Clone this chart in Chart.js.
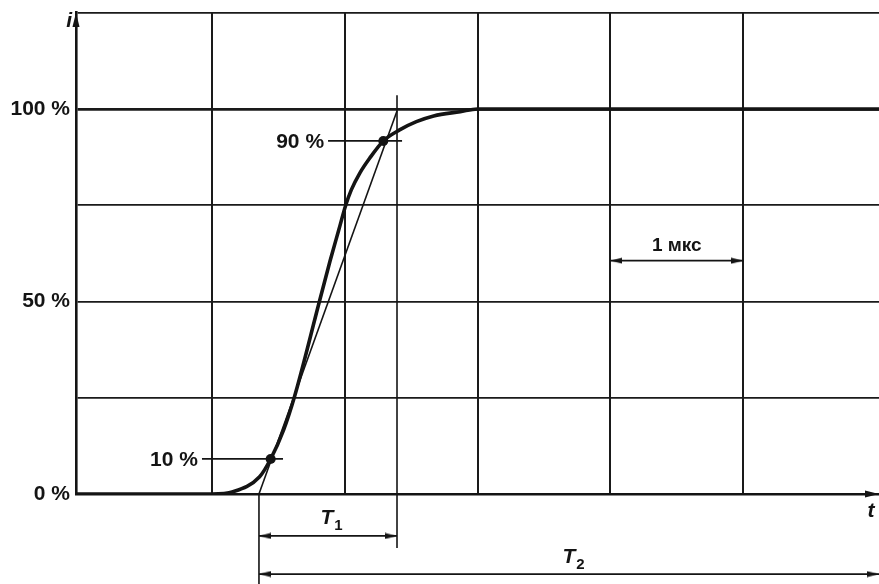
<!DOCTYPE html>
<html><head><meta charset="utf-8">
<script src="https://cdn.jsdelivr.net/npm/chart.js@4.4.1/dist/chart.umd.min.js"></script>
<style>html,body{margin:0;padding:0;background:#fff}#wrap{width:879px;height:584px}</style>
</head><body><div id="wrap"><canvas id="c" width="879" height="584"></canvas></div>
<script>
// ---- data (time in microseconds, current in % of peak) ----
const timeUs     = [-0.03, 1.0, 1.16, 1.36, 1.443, 1.54, 1.62, 1.81, 1.89, 1.955, 2.008, 2.05, 2.113, 2.188, 2.291, 2.41, 2.54, 2.67, 2.87, 3.0, 6.03];
const currentPct = [0, 0, 0.6, 4.5, 9.1, 16.6, 25, 50, 60.5, 68.5, 75, 79, 83.3, 87.2, 91.7, 94.5, 96.7, 98.2, 99.3, 100, 100];
const yTicks      = [0, 25, 50, 75, 100, 125];
const yTickLabels = ['0 %', '', '50 %', '', '100 %', ''];
const xGridUs     = [1, 2, 3, 4, 5];
const levelLabels = ['10 %', '90 %'];
const levelPct    = [9.1, 91.7];
const levelTimeUs = [1.443, 2.291];
const levelMarkFromUs = [0.926, 1.875];
const levelMarkToUs   = [1.536, 2.432];
const rampStartUs = 1.355, rampEndUs = 2.394, rampTopPct = 99.5;
const rampEndMarkPct = [103.6, -14.0];
const rampStartMarkPct = [0, -23.4];
const T1Pct = -10.9, T2Pct = -20.8;
const scaleBarUs = [4, 5], scaleBarPct = 60.6, scaleBarLabel = '1 мкс';
const xMin = -0.0222, xMax = 6.022, yMin = 0, yMax = 125;

// ---- helpers ----
const INK = '#141414';
const FONT = '"Liberation Sans", Arial, sans-serif';
function arrowImg(len, half) {
  const c = document.createElement('canvas');
  c.width = len * 2; c.height = half * 2;
  const g = c.getContext('2d');
  g.fillStyle = INK;
  g.beginPath(); g.moveTo(len, half); g.lineTo(0, 0.5); g.lineTo(0, half * 2 - 0.5); g.closePath(); g.fill();
  return c;
}
const arrowSmall = arrowImg(12, 3.5);
const arrowAxis = arrowImg(14, 4);
const pts = (xs, ys) => xs.map((v, i) => ({x: v, y: ys[i]}));
const seg = (extra) => Object.assign({borderColor: INK, pointRadius: 0, clip: false, tension: 0, fill: false}, extra);

const datasets = [
  seg({data: pts(timeUs, currentPct), borderWidth: 3.6, cubicInterpolationMode: 'monotone', clip: undefined}),
  seg({data: [{x: rampStartUs, y: 0}, {x: rampEndUs, y: rampTopPct}], borderWidth: 1.6}),
  seg({data: [{x: levelMarkFromUs[0], y: levelPct[0]}, {x: levelMarkToUs[0], y: levelPct[0]}], borderWidth: 1.8}),
  seg({data: [{x: levelMarkFromUs[1], y: levelPct[1]}, {x: levelMarkToUs[1], y: levelPct[1]}], borderWidth: 1.8}),
  seg({data: pts(levelTimeUs, levelPct), showLine: false, pointRadius: 5, pointBackgroundColor: INK, pointBorderWidth: 0}),
  seg({data: [{x: rampStartUs, y: rampStartMarkPct[0]}, {x: rampStartUs, y: rampStartMarkPct[1]}], borderWidth: 1.6}),
  seg({data: [{x: rampEndUs, y: rampEndMarkPct[0]}, {x: rampEndUs, y: rampEndMarkPct[1]}], borderWidth: 1.6}),
  seg({data: [{x: rampStartUs, y: T1Pct}, {x: rampEndUs, y: T1Pct}], borderWidth: 1.8,
       pointStyle: arrowSmall, pointRotation: [180, 0], pointRadius: 100, pointBorderWidth: 0}),
  seg({data: [{x: rampStartUs, y: T2Pct}, {x: xMax, y: T2Pct}], borderWidth: 1.8,
       pointStyle: arrowSmall, pointRotation: [180, 0], pointRadius: 100, pointBorderWidth: 0}),
  seg({data: [{x: scaleBarUs[0], y: scaleBarPct}, {x: scaleBarUs[1], y: scaleBarPct}], borderWidth: 1.8,
       pointStyle: arrowSmall, pointRotation: [180, 0], pointRadius: 100, pointBorderWidth: 0}),
  seg({data: [{x: xMin, y: yMax}, {x: xMax, y: yMin}], showLine: false,
       pointStyle: arrowAxis, pointRotation: [-90, 0], pointRadius: 100, pointBorderWidth: 0})
];

const textPlugin = {
  id: 'texts',
  afterDatasetsDraw(chart) {
    const {ctx, scales: {x, y}} = chart;
    ctx.save();
    ctx.fillStyle = INK;
    ctx.font = 'bold 21px ' + FONT;
    ctx.textAlign = 'right'; ctx.textBaseline = 'middle';
    levelLabels.forEach((t, i) => ctx.fillText(t, x.getPixelForValue(levelMarkFromUs[i]) - 4, y.getPixelForValue(levelPct[i]) + 1));
    ctx.textAlign = 'center';
    ctx.font = 'bold 19px ' + FONT;
    ctx.fillText(scaleBarLabel, x.getPixelForValue((scaleBarUs[0] + scaleBarUs[1]) / 2), y.getPixelForValue(scaleBarPct) - 15);
    function sub(main, s, cx, base) {
      ctx.textBaseline = 'alphabetic'; ctx.textAlign = 'left';
      ctx.font = 'italic bold 21px ' + FONT;
      const w1 = ctx.measureText(main).width;
      ctx.font = 'bold 15px ' + FONT;
      const w2 = ctx.measureText(s).width;
      const x0 = cx - (w1 + w2) / 2;
      ctx.font = 'italic bold 21px ' + FONT;
      ctx.fillText(main, x0, base);
      ctx.font = 'bold 15px ' + FONT;
      ctx.fillText(s, x0 + w1 + 1, base + 6);
    }
    sub('T', '1', (x.getPixelForValue(rampStartUs) + x.getPixelForValue(rampEndUs)) / 2 + 3, y.getPixelForValue(T1Pct) - 12);
    sub('T', '2', (x.getPixelForValue(rampStartUs) + x.getPixelForValue(xMax)) / 2 + 4, y.getPixelForValue(T2Pct) - 11);
    ctx.font = 'italic bold 21px ' + FONT;
    ctx.textAlign = 'right'; ctx.textBaseline = 'alphabetic';
    ctx.fillText('i', x.getPixelForValue(xMin) - 4, y.getPixelForValue(yMax) + 14);
    ctx.textAlign = 'center';
    ctx.fillText('t', x.getPixelForValue(xMax) - 8, y.getPixelForValue(yMin) + 23);
    ctx.restore();
  }
};

new Chart(document.getElementById('c'), {
  type: 'line',
  data: {datasets},
  options: {
    responsive: false, animation: false, events: [], devicePixelRatio: 1,
    layout: {autoPadding: false, padding: {top: 12.75, right: 0, bottom: 0, left: 0}},
    plugins: {legend: {display: false}, tooltip: {enabled: false}},
    scales: {
      x: {
        type: 'linear', min: xMin, max: xMax,
        afterBuildTicks: a => { a.ticks = xGridUs.map(v => ({value: v})); },
        afterFit: a => { a.height = 90; a.paddingLeft = 0; a.paddingRight = 0; },
        ticks: {display: false},
        grid: {color: '#1a1a1a', lineWidth: 2, drawTicks: false},
        border: {display: true, color: INK, width: 2.6}
      },
      y: {
        type: 'linear', min: yMin, max: yMax,
        afterBuildTicks: a => { a.ticks = yTicks.map(v => ({value: v})); },
        afterFit: a => { a.width = 76; a.paddingTop = 0; a.paddingBottom = 0; },
        ticks: {
          padding: 6, color: INK,
          font: {family: FONT, size: 21, weight: 'bold'},
          callback: v => yTickLabels[yTicks.indexOf(v)]
        },
        grid: {color: '#1a1a1a', lineWidth: c => (c.tick && c.tick.value === 100 ? 2.8 : 1.8), drawTicks: false},
        border: {display: true, color: INK, width: 2.6}
      }
    }
  },
  plugins: [textPlugin]
});
</script></body></html>
